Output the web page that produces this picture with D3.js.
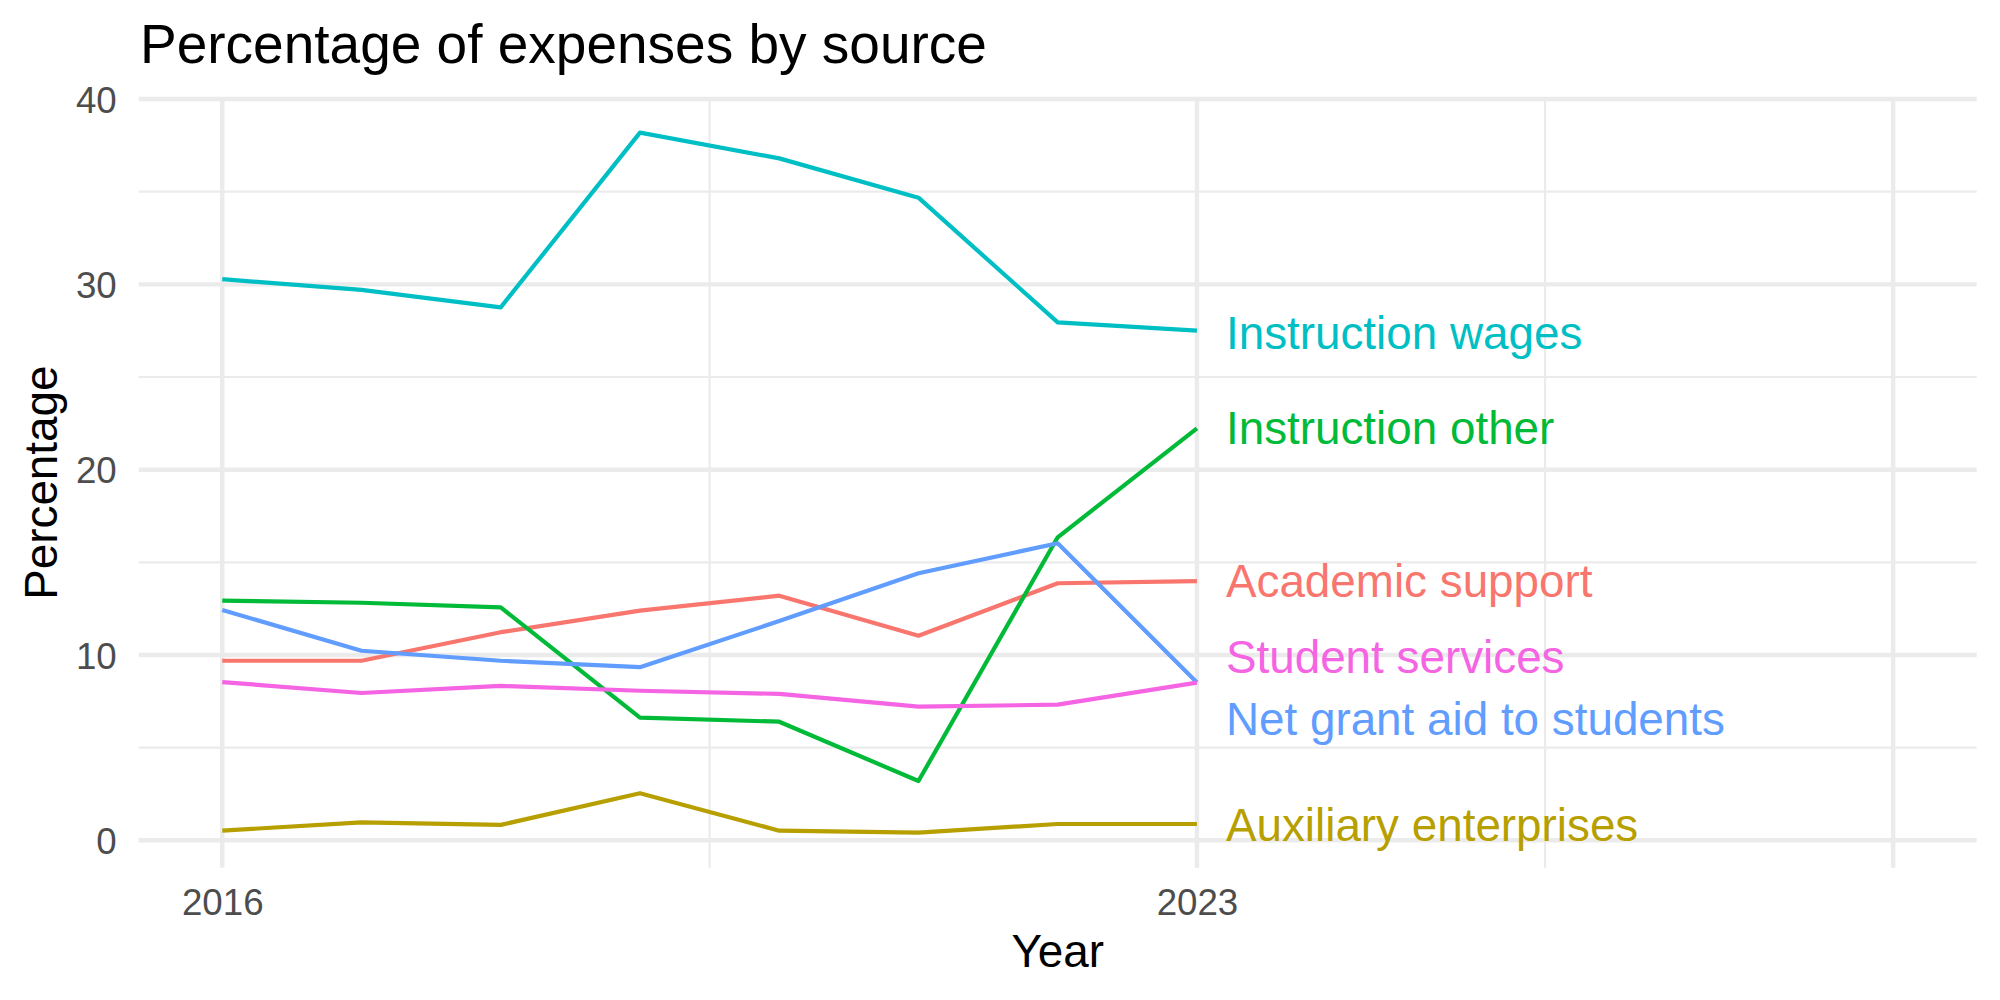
<!DOCTYPE html>
<html>
<head>
<meta charset="utf-8">
<script src="https://cdn.jsdelivr.net/npm/d3@7"></script>
<style>
  body { margin: 0; background: #ffffff; }
  svg { font-family: "Liberation Sans", Arial, Helvetica, sans-serif; }
</style>
</head>
<body>
<script>
var width = 2000;
var height = 1000;

// data
var years = [2016, 2017, 2018, 2019, 2020, 2021, 2022, 2023];
var categories = ["Academic support", "Auxiliary enterprises", "Instruction other",
  "Instruction wages", "Net grant aid to students", "Student services"];
var academicSupport = [9.69, 9.69, 11.23, 12.39, 13.20, 11.04, 13.87, 13.99];
var auxiliaryEnterprises = [0.52, 0.97, 0.83, 2.54, 0.52, 0.41, 0.88, 0.88];
var instructionOther = [12.93, 12.82, 12.57, 6.62, 6.40, 3.20, 16.35, 22.23];
var instructionWages = [30.28, 29.70, 28.76, 38.19, 36.80, 34.68, 27.95, 27.50];
var netGrantAid = [12.43, 10.23, 9.69, 9.34, 11.83, 14.41, 16.03, 8.51];
var studentServices = [8.54, 7.95, 8.33, 8.07, 7.90, 7.21, 7.32, 8.51];
// label heights (after the labels were pushed apart so they don't overlap)
var labelValues = [13.99, 0.81, 22.23, 27.40, 6.53, 9.89];

var xLimits = [2016, 2028];
var xMajor = [2016, 2023, 2028];
var xMinor = [2019.5, 2025.5];
var xTickLabels = [2016, 2023];
var yMajor = [0, 10, 20, 30, 40];
var yMinor = [5, 15, 25, 35];

var colors = ["#F8766D", "#B79F00", "#00BA38", "#00BFC4", "#619CFF", "#F564E3"];

var seriesValues = [academicSupport, auxiliaryEnterprises, instructionOther,
  instructionWages, netGrantAid, studentServices];
var series = categories.map(function (name, i) {
  return {
    name: name,
    color: colors[i],
    labelValue: labelValues[i],
    points: years.map(function (yr, j) { return { year: yr, value: seriesValues[i][j] }; })
  };
});

// ggplot style 5% expansion
var allVals = d3.merge(seriesValues);
var yExt = d3.extent(allVals);
var yPad = (yExt[1] - yExt[0]) * 0.05;
var xPad = (xLimits[1] - xLimits[0]) * 0.05;

var panel = { left: 138.7, right: 1976.7, top: 97.6, bottom: 867.7 };

var x = d3.scaleLinear()
  .domain([xLimits[0] - xPad, xLimits[1] + xPad])
  .range([panel.left, panel.right]);
var y = d3.scaleLinear()
  .domain([yExt[0] - yPad, yExt[1] + yPad])
  .range([panel.bottom, panel.top]);

var svg = d3.select("body").append("svg")
  .attr("width", width)
  .attr("height", height);

svg.append("rect").attr("width", width).attr("height", height).attr("fill", "#ffffff");

var grid = svg.append("g");
// minor grid
grid.selectAll(".ymin").data(yMinor).enter().append("line")
  .attr("x1", panel.left).attr("x2", panel.right)
  .attr("y1", function (d) { return y(d); }).attr("y2", function (d) { return y(d); })
  .attr("stroke", "#EBEBEB").attr("stroke-width", 2.2);
grid.selectAll(".xmin").data(xMinor).enter().append("line")
  .attr("y1", panel.top).attr("y2", panel.bottom)
  .attr("x1", function (d) { return x(d); }).attr("x2", function (d) { return x(d); })
  .attr("stroke", "#EBEBEB").attr("stroke-width", 2.2);
// major grid
grid.selectAll(".ymaj").data(yMajor).enter().append("line")
  .attr("x1", panel.left).attr("x2", panel.right)
  .attr("y1", function (d) { return y(d); }).attr("y2", function (d) { return y(d); })
  .attr("stroke", "#EBEBEB").attr("stroke-width", 4.4);
grid.selectAll(".xmaj").data(xMajor).enter().append("line")
  .attr("y1", panel.top).attr("y2", panel.bottom)
  .attr("x1", function (d) { return x(d); }).attr("x2", function (d) { return x(d); })
  .attr("stroke", "#EBEBEB").attr("stroke-width", 4.4);

// axes (text only, theme_minimal has no axis lines / ticks)
var yAxis = d3.axisLeft(y).tickValues(yMajor).tickSize(0).tickPadding(22);
svg.append("g")
  .attr("transform", "translate(" + panel.left + ",0)")
  .call(yAxis)
  .call(function (g) {
    g.select(".domain").remove();
    g.selectAll("text")
      .attr("fill", "#4D4D4D")
      .attr("font-size", 36.7)
      .attr("font-family", "Liberation Sans, Arial, sans-serif")
      .attr("dy", "0.36em");
  });

var xAxis = d3.axisBottom(x).tickValues(xTickLabels).tickFormat(d3.format("d")).tickSize(0).tickPadding(0);
svg.append("g")
  .attr("transform", "translate(0," + panel.bottom + ")")
  .call(xAxis)
  .call(function (g) {
    g.select(".domain").remove();
    g.selectAll("text")
      .attr("fill", "#4D4D4D")
      .attr("font-size", 36.7)
      .attr("font-family", "Liberation Sans, Arial, sans-serif")
      .attr("y", 0)
      .attr("dy", 47.3);
  });

var line = d3.line()
  .x(function (d) { return x(d.year); })
  .y(function (d) { return y(d.value); });

svg.append("g").selectAll("path")
  .data(series)
  .enter()
  .append("path")
  .attr("d", function (d) { return line(d.points); })
  .attr("fill", "none")
  .attr("stroke", function (d) { return d.color; })
  .attr("stroke-width", 4.2)
  .attr("stroke-linejoin", "round");

// end labels
var lastYear = years[years.length - 1];
svg.append("g").selectAll("text")
  .data(series)
  .enter()
  .append("text")
  .attr("x", x(lastYear) + 29)
  .attr("y", function (d) { return y(d.labelValue); })
  .attr("dy", 16)
  .attr("fill", function (d) { return d.color; })
  .attr("font-size", 45.8)
  .text(function (d) { return d.name; });

// titles
svg.append("text")
  .attr("x", 140)
  .attr("y", 62.7)
  .attr("font-size", 55)
  .attr("fill", "#000000")
  .text("Percentage of expenses by source");

svg.append("text")
  .attr("x", (panel.left + panel.right) / 2)
  .attr("y", 966.7)
  .attr("text-anchor", "middle")
  .attr("font-size", 45.8)
  .attr("fill", "#000000")
  .text("Year");

svg.append("text")
  .attr("transform", "translate(57," + (panel.top + panel.bottom) / 2 + ") rotate(-90)")
  .attr("text-anchor", "middle")
  .attr("font-size", 45.8)
  .attr("fill", "#000000")
  .text("Percentage");
</script>
</body>
</html>
